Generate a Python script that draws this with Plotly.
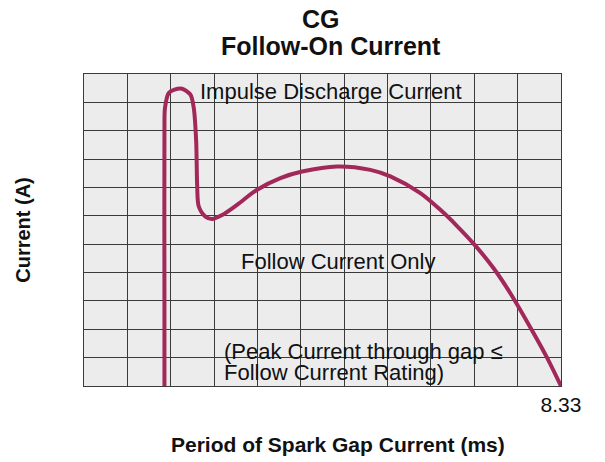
import plotly.graph_objects as go

# Curve data (x in ms, y in grid units of current)
x_ms = [1.405, 1.405, 1.405, 1.414, 1.480, 1.580, 1.714, 1.859, 1.917, 1.959, 1.976,
        2.004, 2.121, 2.238, 2.412, 2.674, 3.023, 3.430, 3.809, 4.420, 5.001,
        5.350, 5.874, 6.223, 6.515, 6.834, 7.153, 7.445, 7.852, 8.086, 8.33]
current = [0.0, 3.03, 9.03, 9.80, 10.33, 10.45, 10.48, 10.27, 9.80, 8.62, 7.09,
           6.33, 5.97, 5.89, 6.03, 6.39, 6.92, 7.33, 7.56, 7.74, 7.62,
           7.39, 6.80, 6.21, 5.64, 4.95, 4.15, 3.27, 1.86, 1.00, 0.0]

x_max = 8.33
n_div = 11
x_tickvals = [i * x_max / n_div for i in range(n_div + 1)]
x_ticktext = [""] * n_div + ["8.33"]

FONT = "Liberation Sans, Arial, sans-serif"
GRID = "#3a3a3a"
TXT = "#111111"

fig = go.Figure()
fig.add_trace(go.Scatter(
    x=x_ms, y=current, mode="lines",
    line=dict(color="#a3285a", width=4, shape="spline", smoothing=0.8),
    hoverinfo="skip", showlegend=False,
))

ann_font = dict(family=FONT, size=22, color=TXT)
fig.add_annotation(x=2.033, y=10.37, text="Impulse Discharge Current", showarrow=False,
                   xanchor="left", yanchor="middle", xshift=-2, font=ann_font)
fig.add_annotation(x=2.743, y=4.38, text="Follow Current Only", showarrow=False,
                   xanchor="left", yanchor="middle", xshift=-2, font=ann_font)
fig.add_annotation(x=2.469, y=1.22, text="(Peak Current through gap ≤", showarrow=False,
                   xanchor="left", yanchor="middle", xshift=-3, font=ann_font)
fig.add_annotation(x=2.469, y=0.48, text="Follow Current Rating)", showarrow=False,
                   xanchor="left", yanchor="middle", xshift=-3, font=ann_font)

# Title lines
title_font = dict(family=FONT, size=25, color=TXT)
fig.add_annotation(x=0.5, y=1, xref="paper", yref="paper", text="<b>CG</b>",
                   showarrow=False, xanchor="center", yanchor="middle", yshift=55,
                   xshift=-2, font=title_font)
fig.add_annotation(x=0.5, y=1, xref="paper", yref="paper", text="<b>Follow-On Current</b>",
                   showarrow=False, xanchor="center", yanchor="middle", yshift=28,
                   xshift=8, font=title_font)

# X axis title (placed to match the reference position)
fig.add_annotation(x=0.5, y=0, xref="paper", yref="paper",
                   text="<b>Period of Spark Gap Current (ms)</b>",
                   showarrow=False, xanchor="center", yanchor="middle", yshift=-58,
                   xshift=15, font=dict(family=FONT, size=21, color=TXT))

fig.update_layout(
    width=597, height=454,
    margin=dict(l=76, r=44, t=66, b=76),
    paper_bgcolor="white", plot_bgcolor="#ececec",
    font=dict(family=FONT, color=TXT),
    xaxis=dict(range=[0, x_max], tickmode="array", tickvals=x_tickvals, ticktext=x_ticktext,
               showgrid=True, gridcolor=GRID, gridwidth=1, zeroline=False,
               showline=True, mirror=True, linecolor=GRID, linewidth=1,
               ticks="", ticklabelstandoff=0,
               tickfont=dict(family=FONT, size=21, color=TXT)),
    yaxis=dict(range=[0, 11], dtick=1, showticklabels=False,
               showgrid=True, gridcolor=GRID, gridwidth=1, zeroline=False,
               showline=True, mirror=True, linecolor=GRID, linewidth=1,
               ticks="",
               title=dict(text="<b>Current (A)</b>", standoff=47,
                          font=dict(family=FONT, size=20, color=TXT))),
)

fig.write_html("out.html")
